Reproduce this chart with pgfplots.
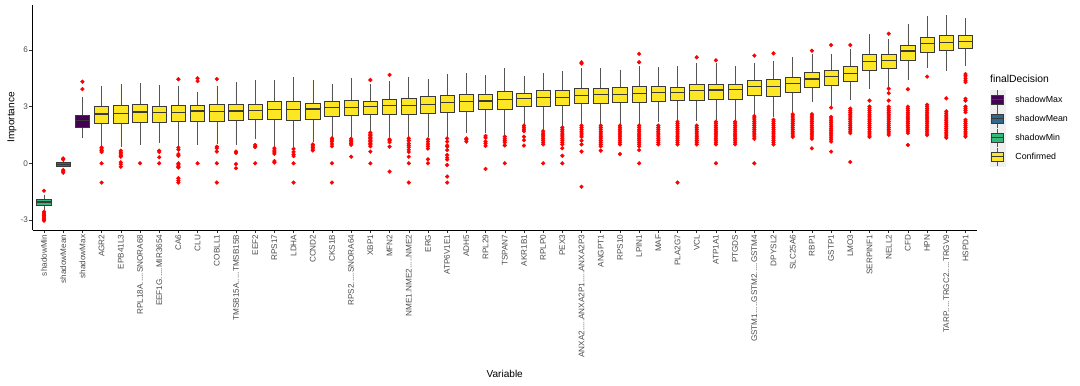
\documentclass[border=0pt]{standalone}
\usepackage{fontspec}
\setmainfont{Liberation Sans}
\usepackage{pgfplots}
\pgfplotsset{compat=1.18}
\usepgfplotslibrary{statistics}
\definecolor{conf}{HTML}{FDE725}
\definecolor{vmax}{HTML}{440154}
\definecolor{vmean}{HTML}{31688E}
\definecolor{vmin}{HTML}{35B779}
\definecolor{boxline}{HTML}{3A3A3A}
\definecolor{whisk}{HTML}{555555}
\definecolor{tickgray}{HTML}{4D4D4D}
\definecolor{keybg}{HTML}{F0F0F0}
\newcommand{\dd}{.\kern0pt.\kern0pt.\kern0pt.\kern0pt.}
\begin{document}
\begin{tikzpicture}
\useasboundingbox (0,0) rectangle (1080bp,386bp);
\begin{axis}[
  at={(32.5bp,156bp)}, anchor=south west,
  width=944.5bp, height=225bp, scale only axis, clip=false,
  xmin=0.4, xmax=49.6, ymin=-3.53, ymax=8.38,
  axis x line*=bottom, axis y line*=left,
  axis line style={black, line width=0.6bp},
  tick pos=left,
  xtick={1,2,3,4,5,6,7,8,9,10,11,12,13,14,15,16,17,18,19,20,21,22,23,24,25,26,27,28,29,30,31,32,33,34,35,36,37,38,39,40,41,42,43,44,45,46,47,48,49},
  xticklabels={shadowMin, shadowMean, shadowMax, AGR2, EPB41L3, RPL18A\dd SNORA68, EEF1G\dd MIR3654, CA6, CLU, COBLL1, TMSB15A\dd TMSB15B, EEF2, RPS17, LDHA, CCND2, CKS1B, RPS2\dd SNORA64, XBP1, MFN2, NME1.NME2\dd NME2, ERG, ATP6V1E1, ADH5, RPL29, TSPAN7, AKR1B1, RPLP0, PEX3, ANXA2\dd ANXA2P1\dd ANXA2P3, ANGPT1, RPS10, LPIN1, MAF, PLA2G7, VCL, ATP1A1, PTGDS, GSTM1\dd GSTM2\dd GSTM4, DPYSL2, SLC25A6, RBP1, GSTP1, LMO3, SERPINF1, NELL2, CFD, HPN, TARP\dd TRGC2\dd TRGV9, HSPD1},
  ytick={-3,0,3,6},
  tick align=outside, major tick length=3bp,
  tick style={color=black!80, line width=0.5bp},
  x tick label style={rotate=90, anchor=east, font=\fontsize{8.2}{9}\selectfont, text=tickgray, inner sep=1.5bp},
  y tick label style={font=\fontsize{8.2}{9}\selectfont, text=tickgray, inner sep=1.5bp},
  /pgf/number format/assume math mode=true,
  xlabel={Variable}, ylabel={Importance},
  xlabel style={at={(axis description cs:0.5,-0.64)}, anchor=center, font=\fontsize{10.1}{12}\selectfont},
  ylabel style={at={(axis description cs:-0.0217,0.5)}, anchor=center, font=\fontsize{10.1}{12}\selectfont},
  boxplot/draw direction=y,
  boxplot/box extend=0.75,
  boxplot/whisker extend=0,
  boxplot/every whisker/.style={draw=whisk, line width=0.55bp},
  boxplot/every median/.style={draw=boxline, line width=1.2bp},
  bx/.style={fill=conf, draw=boxline, line width=0.65bp, mark=none},
  ol/.style={only marks, mark=*, mark size=1.9bp, color=red, mark options={fill=red, draw=red}},
  legend style={at={(axis description cs:1.0138,0.622)}, anchor=north west, draw=none, fill=none, inner sep=0pt, outer sep=0pt, row sep=0pt, column sep=10bp, nodes={inner sep=0pt}, font=\fontsize{8.85}{10}\selectfont},
  legend cell align=left,
]
\addlegendimage{legend image code/.code={\fill[keybg](0bp,-9.3bp) rectangle (15bp,9.3bp); \draw[whisk,line width=0.5bp](7.5bp,-9.3bp)--(7.5bp,9.3bp); \filldraw[fill=vmax,draw=boxline,line width=0.6bp](1.5bp,-4.7bp) rectangle (13.5bp,4.7bp); \draw[boxline,line width=1bp](1.5bp,0bp)--(13.5bp,0bp);}}
\addlegendentry{shadowMax}
\addlegendimage{legend image code/.code={\fill[keybg](0bp,-9.3bp) rectangle (15bp,9.3bp); \draw[whisk,line width=0.5bp](7.5bp,-9.3bp)--(7.5bp,9.3bp); \filldraw[fill=vmean,draw=boxline,line width=0.6bp](1.5bp,-4.7bp) rectangle (13.5bp,4.7bp); \draw[boxline,line width=1bp](1.5bp,0bp)--(13.5bp,0bp);}}
\addlegendentry{shadowMean}
\addlegendimage{legend image code/.code={\fill[keybg](0bp,-9.3bp) rectangle (15bp,9.3bp); \draw[whisk,line width=0.5bp](7.5bp,-9.3bp)--(7.5bp,9.3bp); \filldraw[fill=vmin,draw=boxline,line width=0.6bp](1.5bp,-4.7bp) rectangle (13.5bp,4.7bp); \draw[boxline,line width=1bp](1.5bp,0bp)--(13.5bp,0bp);}}
\addlegendentry{shadowMin}
\addlegendimage{legend image code/.code={\fill[keybg](0bp,-9.3bp) rectangle (15bp,9.3bp); \draw[whisk,line width=0.5bp](7.5bp,-9.3bp)--(7.5bp,9.3bp); \filldraw[fill=conf,draw=boxline,line width=0.6bp](1.5bp,-4.7bp) rectangle (13.5bp,4.7bp); \draw[boxline,line width=1bp](1.5bp,0bp)--(13.5bp,0bp);}}
\addlegendentry{Confirmed}

\addplot[bx, fill=vmin, boxplot prepared={draw position=1, lower whisker=-2.47, lower quartile=-2.25, median=-2.05, upper quartile=-1.91, upper whisker=-1.66}] coordinates {};
\addplot[ol] table[row sep=\\, x expr=1, y index=0] {-1.45\\-2.56\\-2.63\\-2.70\\-2.77\\-2.84\\-2.91\\-2.98\\-3.04\\};
\addplot[bx, fill=vmean, boxplot prepared={draw position=2, lower whisker=-0.2, lower quartile=-0.14, median=-0.05, upper quartile=0.03, upper whisker=0.12}] coordinates {};
\addplot[ol] table[row sep=\\, x expr=2, y index=0] {0.26\\0.2\\-0.36\\-0.42\\-0.5\\};
\addplot[bx, fill=vmax, boxplot prepared={draw position=3, lower whisker=1.32, lower quartile=1.90, median=2.26, upper quartile=2.56, upper whisker=3.53}] coordinates {};
\addplot[ol] table[row sep=\\, x expr=3, y index=0] {4.32\\3.93\\};
\addplot[bx, boxplot prepared={draw position=4, lower whisker=0.94, lower quartile=2.12, median=2.61, upper quartile=3.00, upper whisker=4.11}] coordinates {};
\addplot[ol] table[row sep=\\, x expr=4, y index=0] {0.84\\0.76\\0.68\\0.6\\0\\-1.02\\};
\addplot[bx, boxplot prepared={draw position=5, lower whisker=0.88, lower quartile=2.12, median=2.65, upper quartile=3.05, upper whisker=4.18}] coordinates {};
\addplot[ol] table[row sep=\\, x expr=5, y index=0] {0.67\\0.58\\0.5\\0.42\\0.35\\0.05\\-0.05\\-0.18\\};
\addplot[bx, boxplot prepared={draw position=6, lower whisker=0.97, lower quartile=2.17, median=2.72, upper quartile=3.12, upper whisker=4.24}] coordinates {};
\addplot[ol] table[row sep=\\, x expr=6, y index=0] {0\\};
\addplot[bx, boxplot prepared={draw position=7, lower whisker=1.06, lower quartile=2.17, median=2.70, upper quartile=3.00, upper whisker=4.15}] coordinates {};
\addplot[ol] table[row sep=\\, x expr=7, y index=0] {0.67\\0.6\\0.32\\0\\};
\addplot[bx, boxplot prepared={draw position=8, lower whisker=0.92, lower quartile=2.20, median=2.70, upper quartile=3.07, upper whisker=4.10}] coordinates {};
\addplot[ol] table[row sep=\\, x expr=8, y index=0] {4.45\\0.83\\0.72\\0.49\\0.4\\0\\-0.08\\-0.16\\-0.22\\-0.79\\-0.92\\-1.02\\};
\addplot[bx, boxplot prepared={draw position=9, lower whisker=0.97, lower quartile=2.20, median=2.77, upper quartile=3.07, upper whisker=3.79}] coordinates {};
\addplot[ol] table[row sep=\\, x expr=9, y index=0] {4.5\\4.35\\0\\};
\addplot[bx, boxplot prepared={draw position=10, lower whisker=1.02, lower quartile=2.24, median=2.75, upper quartile=3.12, upper whisker=4.10}] coordinates {};
\addplot[ol] table[row sep=\\, x expr=10, y index=0] {4.46\\0.88\\0.8\\0.62\\0\\-1.02\\};
\addplot[bx, boxplot prepared={draw position=11, lower whisker=0.97, lower quartile=2.29, median=2.77, upper quartile=3.12, upper whisker=4.32}] coordinates {};
\addplot[ol] table[row sep=\\, x expr=11, y index=0] {0.62\\0.55\\-0.04\\-0.26\\};
\addplot[bx, boxplot prepared={draw position=12, lower whisker=1.27, lower quartile=2.33, median=2.81, upper quartile=3.12, upper whisker=4.41}] coordinates {};
\addplot[ol] table[row sep=\\, x expr=12, y index=0] {0.97\\0.9\\0.86\\0\\};
\addplot[bx, boxplot prepared={draw position=13, lower whisker=0.88, lower quartile=2.33, median=2.84, upper quartile=3.30, upper whisker=4.41}] coordinates {};
\addplot[ol] table[row sep=\\, x expr=13, y index=0] {0.8\\0.7\\0.6\\0.5\\0.12\\0.04\\};
\addplot[bx, boxplot prepared={draw position=14, lower whisker=0.85, lower quartile=2.29, median=2.84, upper quartile=3.30, upper whisker=4.55}] coordinates {};
\addplot[ol] table[row sep=\\, x expr=14, y index=0] {0.76\\0.6\\0.47\\0.38\\0\\-1.02\\};
\addplot[bx, boxplot prepared={draw position=15, lower whisker=1.15, lower quartile=2.33, median=2.88, upper quartile=3.18, upper whisker=4.41}] coordinates {};
\addplot[ol] table[row sep=\\, x expr=15, y index=0] {1.0\\0.92\\0.85\\0.76\\0.68\\};
\addplot[bx, boxplot prepared={draw position=16, lower whisker=1.41, lower quartile=2.51, median=2.96, upper quartile=3.30, upper whisker=4.20}] coordinates {};
\addplot[ol] table[row sep=\\, x expr=16, y index=0] {1.32\\1.24\\1.15\\1.02\\0.9\\0\\-1.02\\};
\addplot[bx, boxplot prepared={draw position=17, lower whisker=1.41, lower quartile=2.56, median=2.96, upper quartile=3.35, upper whisker=4.50}] coordinates {};
\addplot[ol] table[row sep=\\, x expr=17, y index=0] {1.3\\1.22\\1.14\\1.06\\0.98\\0.35\\};
\addplot[bx, boxplot prepared={draw position=18, lower whisker=1.68, lower quartile=2.59, median=3.00, upper quartile=3.28, upper whisker=4.20}] coordinates {};
\addplot[ol] table[row sep=\\, x expr=18, y index=0] {4.41\\1.62\\1.54\\1.46\\1.38\\1.3\\1.22\\1.14\\1.06\\0.98\\0.9\\0.62\\0\\};
\addplot[bx, boxplot prepared={draw position=19, lower whisker=1.41, lower quartile=2.59, median=3.07, upper quartile=3.39, upper whisker=4.36}] coordinates {};
\addplot[ol] table[row sep=\\, x expr=19, y index=0] {4.68\\1.27\\1.2\\1.12\\0.88\\-0.44\\};
\addplot[bx, boxplot prepared={draw position=20, lower whisker=1.41, lower quartile=2.59, median=3.07, upper quartile=3.42, upper whisker=4.59}] coordinates {};
\addplot[ol] table[row sep=\\, x expr=20, y index=0] {1.32\\1.2\\1.05\\0.95\\0.85\\0.72\\0.6\\0.35\\0\\-1.02\\};
\addplot[bx, boxplot prepared={draw position=21, lower whisker=1.41, lower quartile=2.65, median=3.12, upper quartile=3.53, upper whisker=4.45}] coordinates {};
\addplot[ol] table[row sep=\\, x expr=21, y index=0] {1.27\\1.15\\1.02\\0.9\\0.78\\0.21\\0\\};
\addplot[bx, boxplot prepared={draw position=22, lower whisker=1.41, lower quartile=2.70, median=3.21, upper quartile=3.60, upper whisker=4.73}] coordinates {};
\addplot[ol] table[row sep=\\, x expr=22, y index=0] {1.32\\1.15\\0.95\\0.88\\0.7\\0.44\\0.3\\0.2\\-0.09\\-0.7\\-1.02\\};
\addplot[bx, boxplot prepared={draw position=23, lower whisker=1.59, lower quartile=2.75, median=3.28, upper quartile=3.65, upper whisker=4.76}] coordinates {};
\addplot[ol] table[row sep=\\, x expr=23, y index=0] {1.32\\1.25\\1.15\\};
\addplot[bx, boxplot prepared={draw position=24, lower whisker=1.62, lower quartile=2.86, median=3.30, upper quartile=3.65, upper whisker=4.68}] coordinates {};
\addplot[ol] table[row sep=\\, x expr=24, y index=0] {1.45\\1.35\\1.15\\1.05\\0.92\\-0.3\\};
\addplot[bx, boxplot prepared={draw position=25, lower whisker=1.45, lower quartile=2.86, median=3.39, upper quartile=3.83, upper whisker=5.03}] coordinates {};
\addplot[ol] table[row sep=\\, x expr=25, y index=0] {1.41\\1.3\\1.2\\1.1\\0.95\\0\\};
\addplot[bx, boxplot prepared={draw position=26, lower whisker=2.03, lower quartile=3.02, median=3.42, upper quartile=3.69, upper whisker=4.62}] coordinates {};
\addplot[ol] table[row sep=\\, x expr=26, y index=0] {2.0\\1.9\\1.8\\1.7\\1.41\\1.22\\0.94\\};
\addplot[bx, boxplot prepared={draw position=27, lower whisker=1.76, lower quartile=3.02, median=3.49, upper quartile=3.86, upper whisker=4.76}] coordinates {};
\addplot[ol] table[row sep=\\, x expr=27, y index=0] {1.7\\1.6\\1.5\\1.4\\1.3\\1.2\\1.1\\1.0\\0\\};
\addplot[bx, boxplot prepared={draw position=28, lower whisker=1.94, lower quartile=3.07, median=3.49, upper quartile=3.86, upper whisker=4.91}] coordinates {};
\addplot[ol] table[row sep=\\, x expr=28, y index=0] {1.9\\1.8\\1.7\\1.6\\1.5\\1.4\\1.3\\1.2\\1.1\\1.0\\0.8\\0.4\\0\\};
\addplot[bx, boxplot prepared={draw position=29, lower whisker=2.03, lower quartile=3.18, median=3.58, upper quartile=3.95, upper whisker=5.03}] coordinates {};
\addplot[ol] table[row sep=\\, x expr=29, y index=0] {5.35\\5.28\\2.0\\1.9\\1.8\\1.7\\1.6\\1.5\\1.4\\1.2\\1.0\\0.62\\-1.24\\};
\addplot[bx, boxplot prepared={draw position=30, lower whisker=2.03, lower quartile=3.18, median=3.64, upper quartile=3.95, upper whisker=5.06}] coordinates {};
\addplot[ol] table[row sep=\\, x expr=30, y index=0] {2.0\\1.9\\1.8\\1.7\\1.6\\1.5\\1.4\\1.3\\1.2\\1.1\\1.0\\0.9\\0.67\\};
\addplot[bx, boxplot prepared={draw position=31, lower whisker=2.03, lower quartile=3.23, median=3.64, upper quartile=4.02, upper whisker=4.94}] coordinates {};
\addplot[ol] table[row sep=\\, x expr=31, y index=0] {2.0\\1.9\\1.8\\1.7\\1.6\\1.5\\1.4\\1.3\\1.2\\1.1\\1.0\\0.49\\};
\addplot[bx, boxplot prepared={draw position=32, lower whisker=2.03, lower quartile=3.23, median=3.71, upper quartile=4.06, upper whisker=5.15}] coordinates {};
\addplot[ol] table[row sep=\\, x expr=32, y index=0] {5.79\\5.35\\2.0\\1.9\\1.8\\1.7\\1.6\\1.5\\1.4\\1.3\\1.2\\1.1\\1.0\\0.9\\0.7\\0\\};
\addplot[bx, boxplot prepared={draw position=33, lower whisker=2.20, lower quartile=3.28, median=3.74, upper quartile=4.06, upper whisker=5.12}] coordinates {};
\addplot[ol] table[row sep=\\, x expr=33, y index=0] {2.0\\1.9\\1.8\\1.7\\1.6\\1.5\\1.4\\1.3\\1.2\\1.1\\1.0\\};
\addplot[bx, boxplot prepared={draw position=34, lower whisker=2.29, lower quartile=3.35, median=3.76, upper quartile=4.02, upper whisker=5.15}] coordinates {};
\addplot[ol] table[row sep=\\, x expr=34, y index=0] {2.2\\2.1\\2.0\\1.9\\1.8\\1.7\\1.6\\1.5\\1.4\\1.3\\1.2\\1.1\\1.0\\-1.02\\};
\addplot[bx, boxplot prepared={draw position=35, lower whisker=2.26, lower quartile=3.35, median=3.85, upper quartile=4.16, upper whisker=5.33}] coordinates {};
\addplot[ol] table[row sep=\\, x expr=35, y index=0] {5.61\\2.0\\1.9\\1.8\\1.7\\1.6\\1.5\\1.4\\1.3\\1.2\\1.1\\1.0\\};
\addplot[bx, boxplot prepared={draw position=36, lower whisker=2.29, lower quartile=3.39, median=3.88, upper quartile=4.16, upper whisker=5.29}] coordinates {};
\addplot[ol] table[row sep=\\, x expr=36, y index=0] {5.45\\2.2\\2.1\\2.0\\1.9\\1.8\\1.7\\1.6\\1.5\\1.4\\1.3\\1.2\\1.1\\1.0\\0\\};
\addplot[bx, boxplot prepared={draw position=37, lower whisker=2.26, lower quartile=3.39, median=3.92, upper quartile=4.16, upper whisker=5.15}] coordinates {};
\addplot[ol] table[row sep=\\, x expr=37, y index=0] {2.2\\2.1\\2.0\\1.9\\1.8\\1.7\\1.6\\1.5\\1.4\\1.3\\1.2\\1.1\\1.0\\};
\addplot[bx, boxplot prepared={draw position=38, lower whisker=2.56, lower quartile=3.58, median=4.06, upper quartile=4.38, upper whisker=5.29}] coordinates {};
\addplot[ol] table[row sep=\\, x expr=38, y index=0] {5.7\\2.5\\2.4\\2.3\\2.2\\2.1\\2.0\\1.9\\1.8\\1.7\\1.6\\1.5\\1.4\\1.3\\0\\};
\addplot[bx, boxplot prepared={draw position=39, lower whisker=2.44, lower quartile=3.55, median=4.06, upper quartile=4.45, upper whisker=5.42}] coordinates {};
\addplot[ol] table[row sep=\\, x expr=39, y index=0] {5.82\\2.3\\2.2\\2.1\\2.0\\1.9\\1.8\\1.7\\1.6\\1.5\\1.4\\1.3\\1.2\\1.1\\1.0\\};
\addplot[bx, boxplot prepared={draw position=40, lower whisker=2.74, lower quartile=3.76, median=4.24, upper quartile=4.55, upper whisker=5.61}] coordinates {};
\addplot[ol] table[row sep=\\, x expr=40, y index=0] {2.6\\2.5\\2.4\\2.3\\2.2\\2.1\\2.0\\1.9\\1.8\\1.7\\1.6\\1.5\\1.4\\};
\addplot[bx, boxplot prepared={draw position=41, lower whisker=3.26, lower quartile=4.02, median=4.46, upper quartile=4.82, upper whisker=5.77}] coordinates {};
\addplot[ol] table[row sep=\\, x expr=41, y index=0] {5.96\\2.6\\2.5\\2.4\\2.3\\2.2\\2.1\\2.0\\1.9\\1.8\\1.7\\1.6\\1.5\\1.4\\1.3\\0.79\\};
\addplot[bx, boxplot prepared={draw position=42, lower whisker=3.03, lower quartile=4.15, median=4.59, upper quartile=4.92, upper whisker=5.79}] coordinates {};
\addplot[ol] table[row sep=\\, x expr=42, y index=0] {6.26\\2.95\\2.45\\2.35\\2.25\\2.15\\2.05\\1.95\\1.85\\1.75\\1.65\\1.55\\1.45\\1.35\\1.25\\1.15\\0.62\\};
\addplot[bx, boxplot prepared={draw position=43, lower whisker=3.35, lower quartile=4.32, median=4.76, upper quartile=5.12, upper whisker=6.05}] coordinates {};
\addplot[ol] table[row sep=\\, x expr=43, y index=0] {6.26\\2.9\\2.8\\2.7\\2.6\\2.5\\2.4\\2.3\\2.2\\2.1\\2.0\\1.9\\1.8\\1.7\\1.6\\0.07\\};
\addplot[bx, boxplot prepared={draw position=44, lower whisker=3.94, lower quartile=4.92, median=5.38, upper quartile=5.75, upper whisker=6.83}] coordinates {};
\addplot[ol] table[row sep=\\, x expr=44, y index=0] {3.32\\3.0\\2.9\\2.8\\2.7\\2.6\\2.5\\2.4\\2.3\\2.2\\2.1\\2.0\\1.9\\1.8\\1.7\\1.6\\1.5\\1.4\\};
\addplot[bx, boxplot prepared={draw position=45, lower whisker=4.02, lower quartile=5.01, median=5.43, upper quartile=5.75, upper whisker=6.56}] coordinates {};
\addplot[ol] table[row sep=\\, x expr=45, y index=0] {6.86\\3.95\\3.71\\3.32\\3.0\\2.9\\2.8\\2.7\\2.6\\2.5\\2.4\\2.3\\2.2\\2.1\\2.0\\1.9\\1.8\\1.7\\1.6\\1.5\\};
\addplot[bx, boxplot prepared={draw position=46, lower whisker=4.41, lower quartile=5.47, median=5.95, upper quartile=6.26, upper whisker=7.38}] coordinates {};
\addplot[ol] table[row sep=\\, x expr=46, y index=0] {3.92\\3.0\\2.9\\2.8\\2.7\\2.6\\2.5\\2.4\\2.3\\2.2\\2.1\\2.0\\1.9\\1.8\\1.7\\1.6\\0.97\\};
\addplot[bx, boxplot prepared={draw position=47, lower whisker=5.03, lower quartile=5.88, median=6.33, upper quartile=6.67, upper whisker=7.80}] coordinates {};
\addplot[ol] table[row sep=\\, x expr=47, y index=0] {4.59\\3.1\\3.0\\2.9\\2.8\\2.7\\2.6\\2.5\\2.4\\2.3\\2.2\\2.1\\2.0\\1.9\\1.8\\1.7\\1.6\\1.5\\};
\addplot[bx, boxplot prepared={draw position=48, lower whisker=4.89, lower quartile=5.98, median=6.41, upper quartile=6.78, upper whisker=7.85}] coordinates {};
\addplot[ol] table[row sep=\\, x expr=48, y index=0] {3.44\\2.75\\2.65\\2.55\\2.45\\2.35\\2.25\\2.15\\2.05\\1.95\\1.85\\1.75\\1.65\\1.55\\1.45\\1.35\\};
\addplot[bx, boxplot prepared={draw position=49, lower whisker=5.17, lower quartile=6.09, median=6.44, upper quartile=6.78, upper whisker=7.71}] coordinates {};
\addplot[ol] table[row sep=\\, x expr=49, y index=0] {4.73\\4.63\\4.5\\4.4\\4.3\\3.42\\3.32\\3.0\\2.9\\2.8\\2.7\\2.3\\2.2\\2.1\\2.0\\1.9\\1.8\\1.7\\1.6\\1.5\\1.41\\};

\node[anchor=west, inner sep=0pt, font=\fontsize{10.4}{12}\selectfont] at (rel axis cs:1.0138,0.671) {finalDecision};
\end{axis}
\end{tikzpicture}
\end{document}
